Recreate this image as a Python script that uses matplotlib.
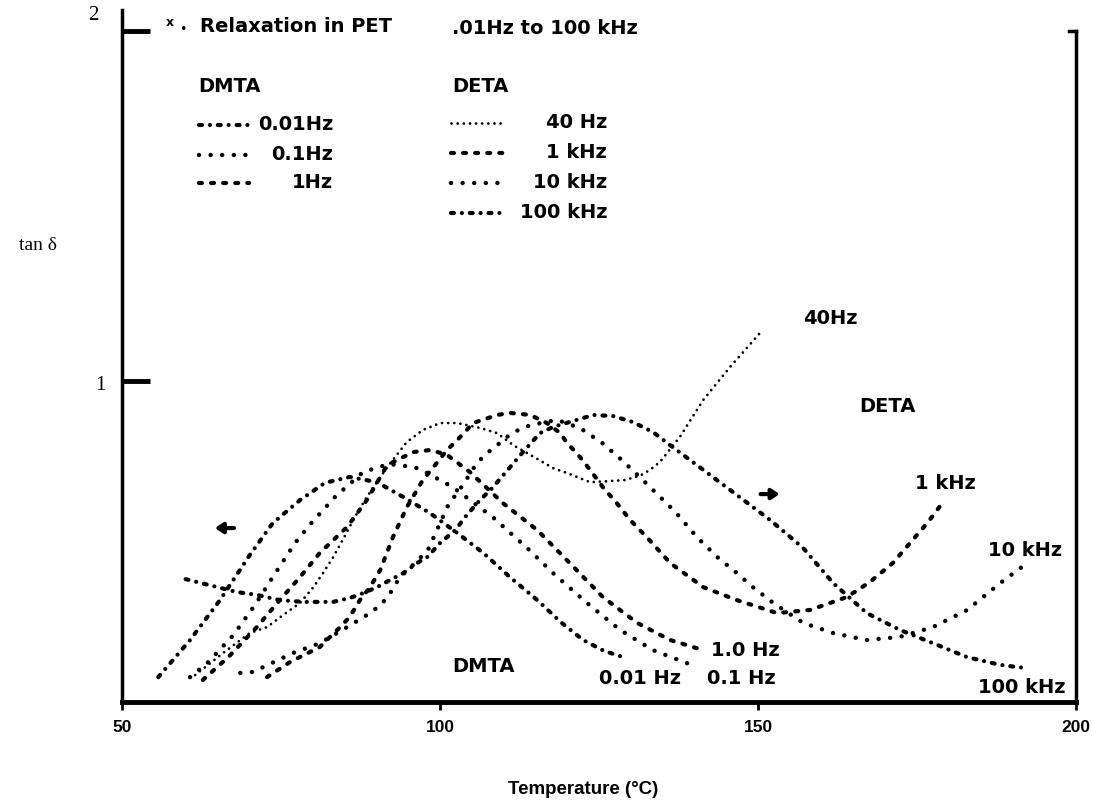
import matplotlib
matplotlib.use("Agg")
import matplotlib.pyplot as plt
from matplotlib.lines import Line2D

# tan delta vs temperature
# DMTA (mechanical)
t_001 = [55.7, 60.7, 65.4, 70.1, 73.7, 78.0, 81.9, 85.8, 90.1, 94.2, 98.4, 102.7, 106.8, 110.8, 115.3, 119.0, 122.5, 125.8, 128.8]
tan_001 = [0.154, 0.260, 0.374, 0.503, 0.594, 0.660, 0.709, 0.726, 0.711, 0.669, 0.623, 0.566, 0.509, 0.443, 0.374, 0.311, 0.260, 0.229, 0.211]

t_01 = [60.7, 63.4, 67.5, 70.9, 74.1, 77.2, 79.6, 83.5, 87.9, 92.0, 96.0, 98.0, 102.0, 108.3, 113.7, 117.8, 123.1, 128.3, 133.5, 140.4]
tan_01 = [0.154, 0.194, 0.274, 0.360, 0.451, 0.537, 0.591, 0.669, 0.740, 0.763, 0.754, 0.737, 0.697, 0.611, 0.523, 0.451, 0.366, 0.289, 0.231, 0.183]

t_1 = [62.7, 66.7, 71.2, 74.8, 78.0, 81.1, 85.4, 88.5, 91.7, 95.8, 98.5, 101.1, 104.7, 109.9, 115.3, 120.4, 125.6, 131.0, 136.2, 141.4]
tan_1 = [0.146, 0.211, 0.297, 0.374, 0.440, 0.509, 0.583, 0.660, 0.760, 0.797, 0.803, 0.789, 0.740, 0.651, 0.574, 0.480, 0.383, 0.309, 0.260, 0.231]

# DETA (dielectric)
t_40 = [61.5, 65.9, 70.1, 72.8, 75.3, 78.0, 80.0, 81.6, 83.2, 84.7, 86.6, 88.5, 91.7, 94.8, 97.3, 100.0, 102.7, 106.3,
        109.0, 111.5, 114.2, 117.8, 120.0, 123.6, 126.5, 129.0, 131.4, 133.0, 134.6, 137.7, 141.4, 145.6, 150.3]
tan_40 = [0.160, 0.223, 0.280, 0.297, 0.331, 0.366, 0.409, 0.451, 0.497, 0.546, 0.611, 0.669, 0.754, 0.826, 0.860, 0.880, 0.880, 0.866,
          0.851, 0.817, 0.789, 0.751, 0.737, 0.711, 0.714, 0.717, 0.729, 0.746, 0.769, 0.840, 0.946, 1.040, 1.137]

t_1k = [72.8, 76.4, 81.1, 84.3, 85.8, 87.4, 89.0, 90.6, 92.6, 94.8, 97.3, 99.5, 101.1, 102.7, 104.2, 105.2, 109.0, 111.0, 114.2,
        116.8, 118.9, 120.0, 122.0, 123.6, 125.6, 127.8, 129.9, 132.5, 136.2, 141.4, 146.7, 153.0, 158.2, 164.0, 167.6, 171.2, 176.6, 179.1]
tan_1k = [0.154, 0.197, 0.240, 0.297, 0.326, 0.374, 0.411, 0.460, 0.554, 0.640, 0.717, 0.766, 0.803, 0.831, 0.860, 0.880, 0.903, 0.909, 0.903,
          0.880, 0.851, 0.823, 0.783, 0.746, 0.697, 0.651, 0.603, 0.554, 0.480, 0.411, 0.374, 0.337, 0.346, 0.383, 0.426, 0.480, 0.594, 0.654]

t_10k = [68.6, 70.6, 76.9, 81.1, 85.4, 89.0, 90.6, 91.8, 93.7, 95.3, 98.1, 101.3, 103.6, 105.8, 107.4, 109.0, 110.5, 112.3, 114.2, 118.4,
         122.0, 125.5, 128.6, 132.7, 137.0, 140.4, 143.6, 146.7, 149.2, 152.4, 157.1, 161.8, 167.1, 172.3, 177.5, 182.9, 188.1, 191.5]
tan_10k = [0.166, 0.169, 0.223, 0.251, 0.297, 0.337, 0.360, 0.383, 0.440, 0.466, 0.517, 0.646, 0.703, 0.766, 0.794, 0.817, 0.840, 0.860, 0.874, 0.889,
           0.866, 0.823, 0.774, 0.703, 0.626, 0.554, 0.497, 0.451, 0.411, 0.366, 0.309, 0.280, 0.260, 0.269, 0.297, 0.346, 0.423, 0.469]

t_100k = [60.0, 68.1, 71.2, 74.8, 78.5, 83.2, 85.8, 87.9, 90.1, 92.1, 94.2, 96.4, 98.0, 100.0, 102.4, 104.2, 106.3, 108.2, 109.7, 111.3,
          112.9, 115.7, 117.8, 120.4, 124.1, 127.2, 130.3, 133.5, 136.6, 141.4, 146.7, 151.9, 157.1, 161.8, 167.1, 172.3, 177.5, 182.9, 188.1, 192.0]
tan_100k = [0.434, 0.397, 0.389, 0.374, 0.369, 0.369, 0.380, 0.394, 0.411, 0.431, 0.451, 0.480, 0.497, 0.537, 0.574, 0.617, 0.660, 0.694, 0.726, 0.760,
            0.794, 0.851, 0.869, 0.883, 0.903, 0.900, 0.883, 0.854, 0.811, 0.746, 0.674, 0.603, 0.523, 0.423, 0.337, 0.289, 0.251, 0.211, 0.189, 0.180]

dmta_labels = ["0.01Hz", "0.1Hz", "1Hz"]
deta_labels = ["40 Hz", "1 kHz", "10 kHz", "100 kHz"]

# line styles (dash patterns in units of line width)
DASHDOT = dict(lw=3, ls=(0, (0.7, 1.9, 0.01, 1.9)))
DOTS = dict(lw=3.2, ls=(0, (0.01, 2.6)))
FINE = dict(lw=2, ls=(0, (0.01, 2.2)))
DASH = dict(lw=3, ls=(0, (0.7, 2.2)))

W, H = 1093, 810


def fx(px):
    return px / W


def fy(py):
    return 1 - py / H


plt.rcParams['font.family'] = ['DejaVu Sans']
SERIF = ['Liberation Serif', 'DejaVu Serif']
NARROW = ['Liberation Sans', 'DejaVu Sans']

fig = plt.figure(figsize=(W / 100, H / 100), dpi=100)
ax = fig.add_axes([fx(122), fy(702), (1076 - 122) / W, (702 - 10) / H])
ax.set_xlim(50, 200)
ax.set_ylim(0.083, 2.06)

curves = [
    (t_001, tan_001, DASHDOT),
    (t_01, tan_01, DOTS),
    (t_1, tan_1, DASH),
    (t_40, tan_40, FINE),
    (t_1k, tan_1k, DASH),
    (t_10k, tan_10k, DOTS),
    (t_100k, tan_100k, DASHDOT),
]
for t, v, st in curves:
    ax.plot(t, v, color='black', solid_capstyle='round', dash_capstyle='round', **st)

# frame
ax.spines['top'].set_visible(False)
ax.spines['left'].set_linewidth(2.5)
ax.spines['right'].set_linewidth(2.5)
ax.spines['bottom'].set_linewidth(3.5)
ax.spines['right'].set_bounds(0.083, 2.0)
ax.plot([0.993, 1.0], [2.0, 2.0], color='black', lw=2.5, transform=ax.get_yaxis_transform(), clip_on=False)

ax.set_yticks([1, 2])
ax.set_yticklabels([])
ax.tick_params(axis='y', direction='in', length=20, width=3.5)
fig.text(fx(93), fy(16), "2", ha='center', va='center', fontsize=15, family=SERIF)
fig.text(fx(100), fy(385), "1", ha='center', va='center', fontsize=15, family=SERIF)

ax.set_xticks([50, 100, 150, 200])
ax.set_xticklabels(["50", "100", "150", "200"], fontweight='bold', fontsize=12.5, family=NARROW)
ax.tick_params(axis='x', direction='out', length=6, width=2, pad=7)

fig.text(fx(38), fy(245), "tan δ", ha='center', va='center', fontsize=14, family=SERIF)
fig.text(fx(583), fy(790), "Temperature (°C)", ha='center', va='center', fontsize=13.5,
         fontweight='bold', family=NARROW)

# header text and legend
fig.text(fx(170), fy(23), "x", ha='center', va='center', fontsize=9, fontweight='bold')
fig.text(fx(183), fy(30), "•", ha='center', va='center', fontsize=9)
fig.text(fx(200), fy(27), "Relaxation in PET", ha='left', va='center', fontsize=14, fontweight='bold')
fig.text(fx(452), fy(28), ".01Hz to 100 kHz", ha='left', va='center', fontsize=14, fontweight='bold')
fig.text(fx(198), fy(86), "DMTA", ha='left', va='center', fontsize=14, fontweight='bold')
fig.text(fx(452), fy(86), "DETA", ha='left', va='center', fontsize=14, fontweight='bold')

for lab, st, py in zip(dmta_labels, [DASHDOT, DOTS, DASH], [125, 155, 183]):
    fig.add_artist(Line2D([fx(199), fx(249)], [fy(py), fy(py)], color='black', transform=fig.transFigure,
                          dash_capstyle='round', **st))
    fig.text(fx(333), fy(py), lab, ha='right', va='center', fontsize=14, fontweight='bold')
for lab, st, py in zip(deta_labels, [FINE, DASH, DOTS, DASHDOT], [123, 153, 183, 213]):
    fig.add_artist(Line2D([fx(451), fx(505)], [fy(py), fy(py)], color='black', transform=fig.transFigure,
                          dash_capstyle='round', **st))
    fig.text(fx(607), fy(py), lab, ha='right', va='center', fontsize=14, fontweight='bold')

# curve annotations
ann = dict(ha='center', va='center', fontsize=14, fontweight='bold')
ax.text(161.3, 1.18, "40Hz", **ann)
ax.text(170.3, 0.926, "DETA", **ann)
ax.text(179.4, 0.706, "1 kHz", **ann)
ax.text(192.0, 0.517, "10 kHz", **ann)
ax.text(191.5, 0.123, "100 kHz", **ann)
ax.text(148.0, 0.231, "1.0 Hz", **ann)
ax.text(147.3, 0.151, "0.1 Hz", **ann)
ax.text(131.4, 0.151, "0.01 Hz", **ann)
ax.text(106.9, 0.183, "DMTA", **ann)

# small arrows pointing to the axis each family belongs to
arrow = dict(arrowstyle='-|>,head_width=0.3,head_length=0.45', lw=3, color='black', shrinkA=0, shrinkB=0)
ax.annotate("", xy=(64.6, 0.58), xytext=(67.6, 0.58), arrowprops=arrow)
ax.annotate("", xy=(153.4, 0.677), xytext=(150.4, 0.677), arrowprops=arrow)

fig.savefig("out.png", dpi=100)
